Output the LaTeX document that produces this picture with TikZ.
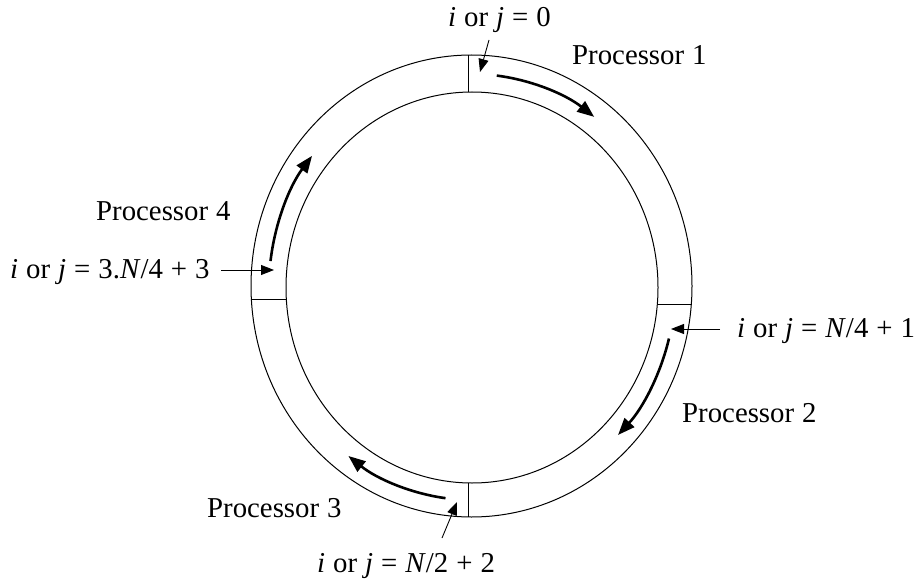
\documentclass[tikz,border=0pt]{standalone}
\usepackage{fontspec}
\setmainfont{Liberation Serif}
\usetikzlibrary{arrows.meta}
\newcommand{\mylblfont}{\fontsize{28.8}{34}\selectfont\spaceskip=8pt plus 1pt minus 1pt\relax}
\begin{document}
\begin{tikzpicture}[x=1pt,y=-1pt,
  ring/.style={line width=1pt},
  divider/.style={line width=1pt},
  flow/.style={line width=2.6pt,-{Triangle[length=17pt,width=13pt]}},
  pointer/.style={line width=0.9pt,-{Triangle[length=13pt,width=10pt]}},
  lbl/.style={anchor=base west,inner sep=0pt,font=\mylblfont}]
\useasboundingbox (0,0) rectangle (917,580);
% ring
\draw[ring] (471.5,286) ellipse [x radius=220.5,y radius=231];
\draw[ring] (472,287.5) ellipse [x radius=186,y radius=195.5];
% dividers
\draw[divider] (468,55) -- (468,92);
\draw[divider] (658,304) -- (692,304);
\draw[divider] (468,483) -- (468,517);
\draw[divider] (252,299) -- (286,299);
% flow arrows
\coordinate (c) at (472,287);
\draw[flow] (c) ++(-83:203 and 213) arc[start angle=-83,end angle=-53,x radius=203,y radius=213];
\draw[flow] (c) ++(14:203 and 213) arc[start angle=14,end angle=44,x radius=203,y radius=213];
\draw[flow] (c) ++(97.5:203 and 213) arc[start angle=97.5,end angle=127.5,x radius=203,y radius=213];
\draw[flow] (c) ++(187:203 and 213) arc[start angle=187,end angle=218,x radius=203,y radius=213];
% labels
\node[lbl] (t0) at (448,27) {\textit{i} or \textit{j} = 0};
\node[lbl] (p1) at (572,65) {Processor 1};
\node[lbl] (p4) at (96,220) {Processor 4};
\node[lbl] (t3) at (10,278) {\textit{i} or \textit{j} = 3.\textit{N}/4 + 3};
\node[lbl] (t1) at (737,337) {\textit{i} or \textit{j} = \textit{N}/4 + 1};
\node[lbl] (p2) at (682,422) {Processor 2};
\node[lbl] (p3) at (207,517) {Processor 3};
\node[lbl] (t2) at (317,572) {\textit{i} or \textit{j} = \textit{N}/2 + 2};
% pointers
\coordinate (a0s) at (489,40); \coordinate (a0e) at (480,72);
\coordinate (a3s) at (221,270); \coordinate (a3e) at (274,270);
\coordinate (a1s) at (720,329); \coordinate (a1e) at (671,329);
\coordinate (a2s) at (442,538); \coordinate (a2e) at (457,502);
\draw[pointer] (a0s) -- (a0e);
\draw[pointer] (a3s) -- (a3e);
\draw[pointer] (a1s) -- (a1e);
\draw[pointer] (a2s) -- (a2e);
\end{tikzpicture}
\end{document}
